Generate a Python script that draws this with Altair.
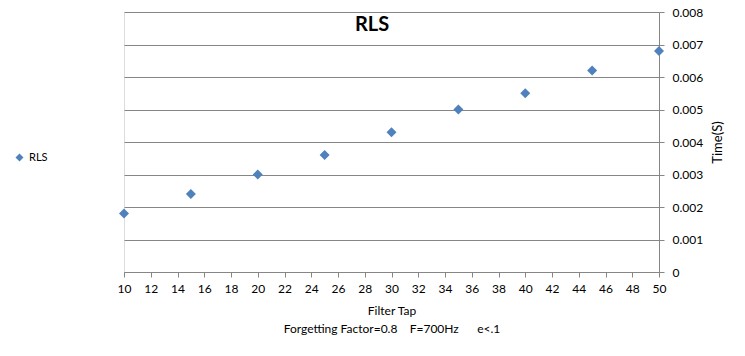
import altair as alt
import pandas as pd

filter_tap = [10, 15, 20, 25, 30, 35, 40, 45, 50]
time_s = [0.0018, 0.0024, 0.0030, 0.0036, 0.0043, 0.0050, 0.0055, 0.0062, 0.0068]
series = ["RLS"] * len(filter_tap)
x_ticks = list(range(10, 51, 2))
y_ticks = [0, 0.001, 0.002, 0.003, 0.004, 0.005, 0.006, 0.007, 0.008]
chart_title = ["RLS"]

df = pd.DataFrame({"tap": filter_tap, "time": time_s, "series": series})
title_df = pd.DataFrame({"label": chart_title})

FONT = "Lato"
GRAY = "#868686"
NB = "\u00a0"
subtitle = "Forgetting Factor=0.8" + NB * 4 + "F=700Hz" + NB * 6 + "e<.1"

points = alt.Chart(df).mark_point(
    shape="diamond", filled=True, size=100, opacity=1
).encode(
    x=alt.X("tap:Q",
            scale=alt.Scale(domain=[10, 50], nice=False, zero=False),
            axis=alt.Axis(values=x_ticks, title=["Filter Tap", subtitle],
                          grid=False, domainColor=GRAY, tickColor=GRAY,
                          tickSize=5, labelPadding=6, labelFontSize=12,
                          labelColor="#000000", titleFontSize=12,
                          titleFontWeight="normal", titleColor="#000000",
                          titlePadding=11, labelFlush=False,
                          titleLineHeight=18, titleFont=FONT, labelFont=FONT)),
    y=alt.Y("time:Q",
            scale=alt.Scale(domain=[0, 0.008], nice=False),
            axis=alt.Axis(orient="right", values=y_ticks, format="~g",
                          title="Time(S)", titleAngle=270, grid=True,
                          gridColor=GRAY, gridWidth=1, domainColor=GRAY,
                          tickColor=GRAY, tickSize=5, labelPadding=8,
                          labelFontSize=12, labelColor="#000000",
                          titleFontSize=13, titleFontWeight="normal",
                          titleColor="#000000", titleX=58, titleY=130,
                          titleAlign="center", titleBaseline="middle",
                          labelFont=FONT, titleFont=FONT)),
    color=alt.Color("series:N",
                    scale=alt.Scale(range=["#4F81BD"]),
                    legend=alt.Legend(title=None, orient="none",
                                      legendX=-110, legendY=140,
                                      symbolType="diamond", symbolSize=64,
                                      labelFontSize=11, labelFont=FONT,
                                      labelColor="#000000", padding=0,
                                      symbolStrokeWidth=0)),
)

title_text = alt.Chart(title_df).mark_text(
    font=FONT, fontSize=20, fontWeight="bold", color="#000000",
    align="center", baseline="alphabetic"
).encode(
    text="label:N",
    x=alt.value(248),
    y=alt.value(19),
)

chart = alt.layer(points, title_text).properties(
    width=535,
    height=260,
    autosize=alt.AutoSizeParams(type="none"),
    padding={"left": 116, "top": 4, "right": 78, "bottom": 76},
).configure_view(stroke=None).configure(background="white")

chart.save("out.html", embed_options={"renderer": "svg", "actions": False})
